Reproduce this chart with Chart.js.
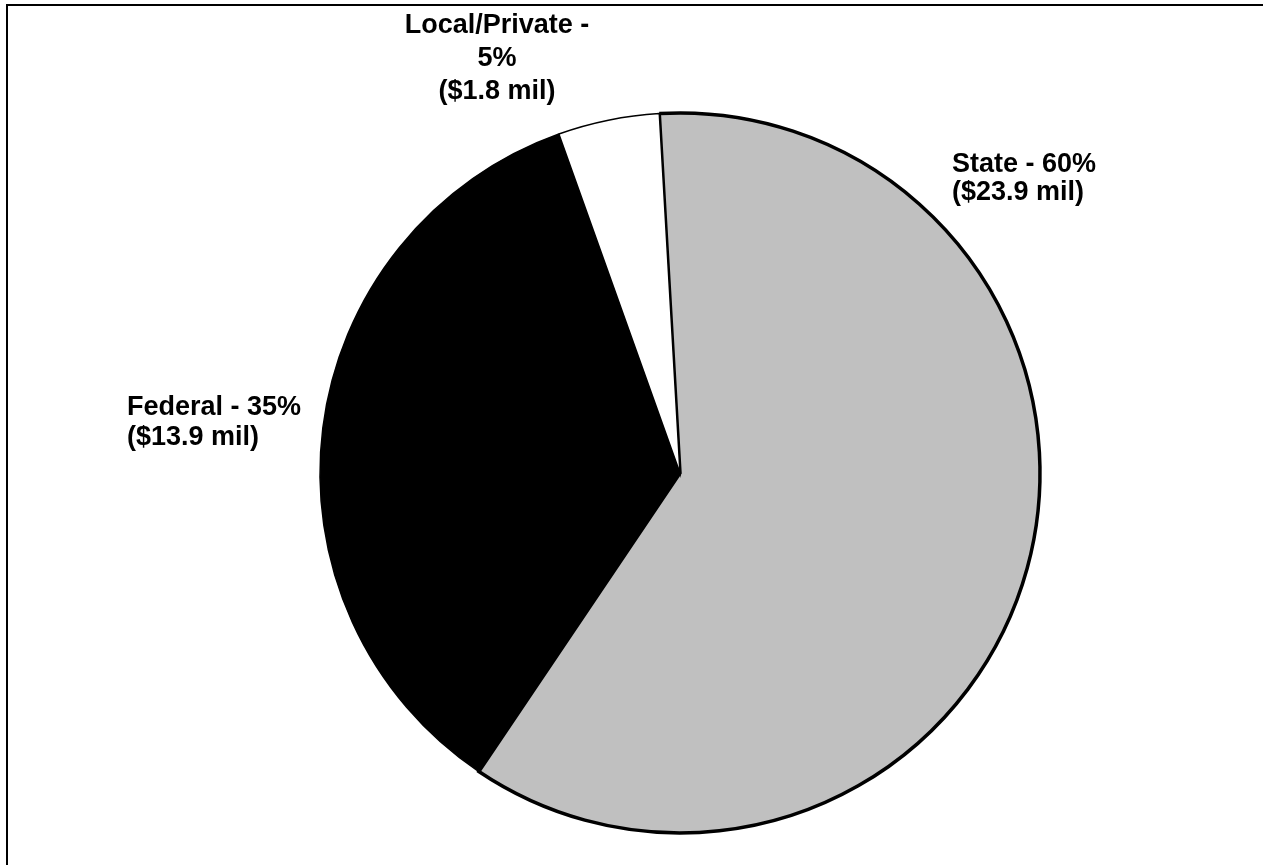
<!DOCTYPE html>
<html>
<head>
<meta charset="utf-8">
<script src="https://cdn.jsdelivr.net/npm/chart.js@4"></script>
<style>
    html, body { margin: 0; padding: 0; background: #ffffff; }
    #grafico-wrapper { position: relative; width: 1263px; height: 865px; }
</style>
</head>
<body>
<div id="grafico-wrapper"><canvas id="grafico"></canvas></div>
<script>
// fuentes de financiamiento (millones de dólares)
const fuentes = ['State', 'Federal', 'Local/Private'];
const montos = [23.9, 13.9, 1.8];
const colores = ['#c0c0c0', '#000000', '#ffffff'];

const total = montos.reduce((a, b) => a + b, 0);

// cada etiqueta: ancla (x, y de la primera línea), alineación y ancho máximo antes de partir la línea
const anclas = [
    { x: 952, y: 172, align: 'left', maxAncho: 400, alto: 28 },
    { x: 127, y: 415, align: 'left', maxAncho: 400, alto: 30 },
    { x: 497, y: 33, align: 'center', maxAncho: 210, alto: 33 }
];

function partirTexto(ctx, texto, maxAncho) {
    const palabras = texto.split(' ');
    const lineas = [];
    let actual = '';
    palabras.forEach(p => {
        const prueba = actual ? actual + ' ' + p : p;
        if (ctx.measureText(prueba).width > maxAncho && actual) {
            lineas.push(actual);
            actual = p;
        } else {
            actual = prueba;
        }
    });
    if (actual) lineas.push(actual);
    return lineas;
}

const marcoYEtiquetas = {
    id: 'marcoYEtiquetas',
    beforeDraw(chart) {
        const ctx = chart.ctx;
        ctx.save();
        ctx.strokeStyle = '#000000';
        ctx.lineWidth = 2;
        ctx.beginPath();
        ctx.moveTo(7, chart.height + 5);
        ctx.lineTo(7, 5);
        ctx.lineTo(chart.width + 5, 5);
        ctx.stroke();
        ctx.restore();
    },
    afterDraw(chart) {
        const ctx = chart.ctx;
        ctx.save();
        ctx.fillStyle = '#000000';
        ctx.font = 'bold 27px "Liberation Sans", Arial, sans-serif';
        ctx.textBaseline = 'alphabetic';
        fuentes.forEach((nombre, i) => {
            const a = anclas[i];
            const pct = Math.round(montos[i] / total * 100);
            const lineas = partirTexto(ctx, `${nombre} - ${pct}%`, a.maxAncho);
            lineas.push(`($${montos[i].toFixed(1)} mil)`);
            ctx.textAlign = a.align;
            lineas.forEach((l, j) => ctx.fillText(l, a.x, a.y + j * a.alto));
        });
        ctx.restore();
    }
};

new Chart(document.getElementById('grafico'), {
    type: 'pie',
    data: {
        labels: fuentes,
        datasets: [{
            data: montos,
            backgroundColor: colores,
            borderColor: '#000000',
            borderWidth: [3.5, 1.5, 1.5],
            borderJoinStyle: 'miter',
            radius: 360
        }]
    },
    options: {
        responsive: true,
        maintainAspectRatio: false,
        animation: false,
        rotation: -3.3,
        layout: { padding: { left: 97, right: 0, top: 81, bottom: 0 } },
        plugins: {
            legend: { display: false },
            tooltip: { enabled: false }
        }
    },
    plugins: [marcoYEtiquetas]
});
</script>
</body>
</html>
